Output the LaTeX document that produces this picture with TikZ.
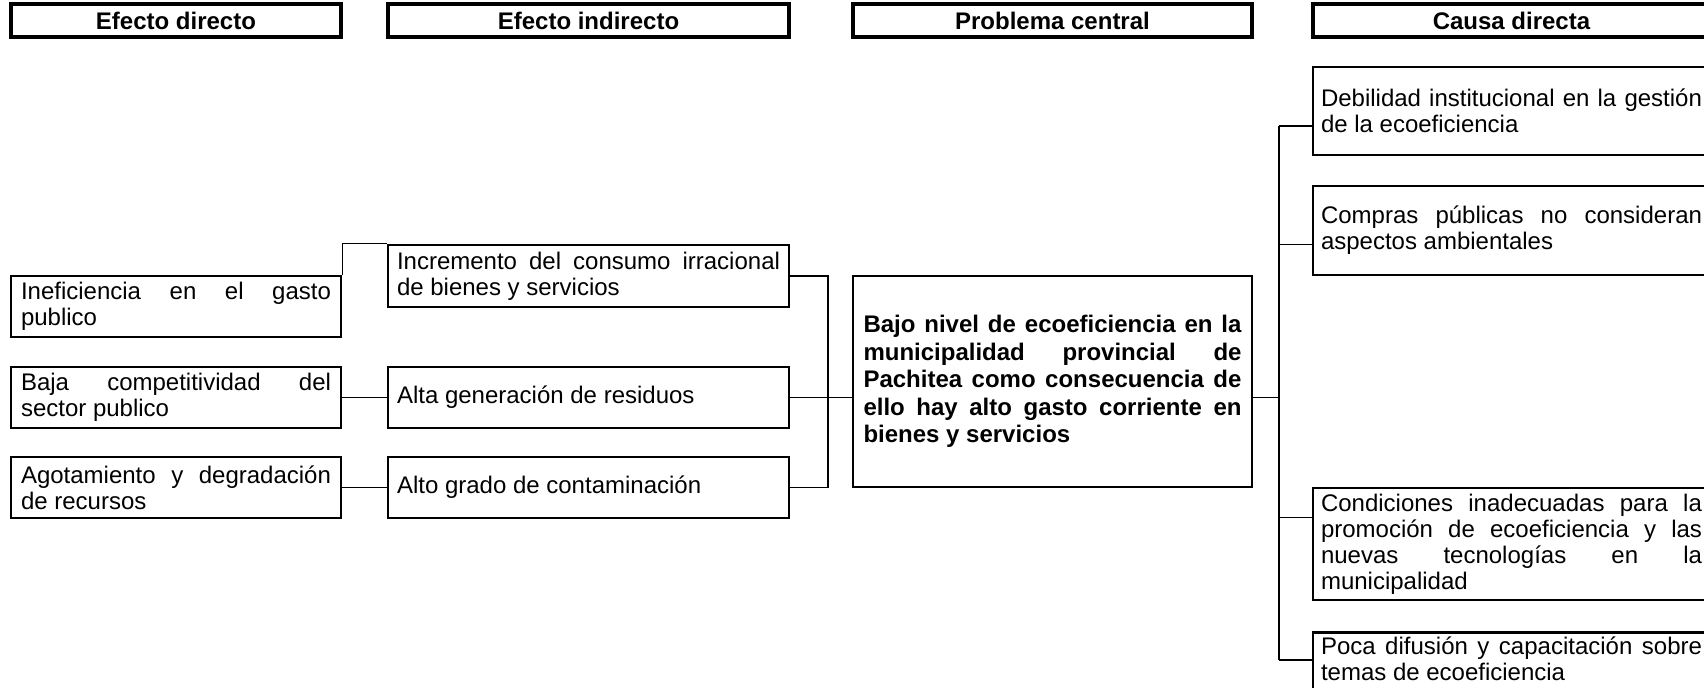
\documentclass[tikz,border=0pt]{standalone}
\usepackage{fontspec}
\setmainfont{Liberation Sans}
\hyphenpenalty=10000
\exhyphenpenalty=10000
\begin{document}
\begin{tikzpicture}[x=0.5pt,y=-0.5pt]
  \useasboundingbox (0,0) rectangle (1704,688);
  \clip (0,0) rectangle (1704,688);
  \begin{scope}[every node/.style={draw,line width=1.75pt,minimum height=16.5pt,inner sep=0pt,font=\fontsize{12}{13}\selectfont\bfseries}]
  \node[minimum width=165pt] (hdir) at (176,20.5) {Efecto directo};
  \node[minimum width=200.5pt] (hind) at (588.5,20.5) {Efecto indirecto};
  \node[minimum width=199.5pt] (hcen) at (1052.5,20.5) {Problema central};
  \node[minimum width=198.5pt] (hcau) at (1511.5,20.5) {Causa directa};
  \end{scope}
  \begin{scope}[every node/.style={draw,line width=1.35pt,inner ysep=2pt,align=justify,font=\fontsize{12}{13}\selectfont}]
  \node[text width=155pt,inner xsep=5pt,minimum height=30.5pt] (ine) at (176,306.5) {Ineficiencia en el gasto\linebreak publico};
  \node[text width=155pt,inner xsep=5pt,minimum height=30.5pt] (baja) at (176,397.5) {Baja competitividad del\linebreak sector publico};
  \node[text width=155pt,inner xsep=5pt,minimum height=30.5pt] (agot) at (176,487.5) {Agotamiento y degradación\linebreak de recursos};
  \node[text width=191.5pt,inner xsep=4.5pt,minimum height=31pt] (inc) at (588.5,276) {Incremento del consumo irracional\linebreak de bienes y servicios};
  \node[text width=191.5pt,inner xsep=4.5pt,minimum height=30.5pt] (alta) at (588.5,397.5) {Alta generación de residuos};
  \node[text width=191.5pt,inner xsep=4.5pt,minimum height=30.5pt] (alto) at (588.5,487.5) {Alto grado de contaminación};
  \node[text width=189pt,inner xsep=5.25pt,minimum height=105.5pt,font=\fontsize{12}{13.8}\selectfont\bfseries] (cen) at (1052.5,381.5) {Bajo nivel de ecoeficiencia en la\linebreak municipalidad provincial de\linebreak Pachitea como consecuencia de\linebreak ello hay alto gasto corriente en\linebreak bienes y servicios};
  \node[text width=190.5pt,inner xsep=4pt,minimum height=44pt] (deb) at (1511.5,111) {Debilidad institucional en la gestión\linebreak de la ecoeficiencia};
  \node[text width=190.5pt,inner xsep=4pt,minimum height=44.5pt] (comp) at (1511.5,230.5) {Compras públicas no consideran\linebreak aspectos ambientales};
  \node[text width=190.5pt,inner xsep=4pt,minimum height=56pt] (cond) at (1511.5,544) {Condiciones inadecuadas para la\linebreak promoción de ecoeficiencia y las\linebreak nuevas tecnologías en la\linebreak municipalidad};
  \node[text width=190.5pt,inner xsep=4pt,text depth=28pt,anchor=north] (poca) at (1511.5,631) {Poca difusión y capacitación sobre\linebreak temas de ecoeficiencia};
  \end{scope}
  \coordinate (busl) at (828,397.5);
  \coordinate (busr) at (1279,397.5);
  \coordinate (kdeb) at (1279,126);
  \coordinate (kcomp) at (1279,244.5);
  \coordinate (kcond) at (1279,517.5);
  \coordinate (kpoca) at (1279,660);
  \begin{scope}[every edge/.style={draw=black,line width=0.85pt}]
  \path (baja) edge (alta);
  \path (agot) edge (alto);
  \path (alta.east) edge (alta.east -| cen.west);
  \path (cen.east |- busr) edge (busr);
  \path (kdeb) edge (kpoca);
  \path (kdeb) edge (kdeb -| deb.west);
  \path (kcomp) edge (kcomp -| comp.west);
  \path (kcond) edge (kcond -| cond.west);
  \path (kpoca) edge (kpoca -| poca.west);
  \end{scope}
  \draw[line width=0.85pt] (ine.north east) |- (inc.north west);
  \draw[line width=0.85pt] (inc.east) -| (busl) |- (alto.east);
\end{tikzpicture}
\end{document}
